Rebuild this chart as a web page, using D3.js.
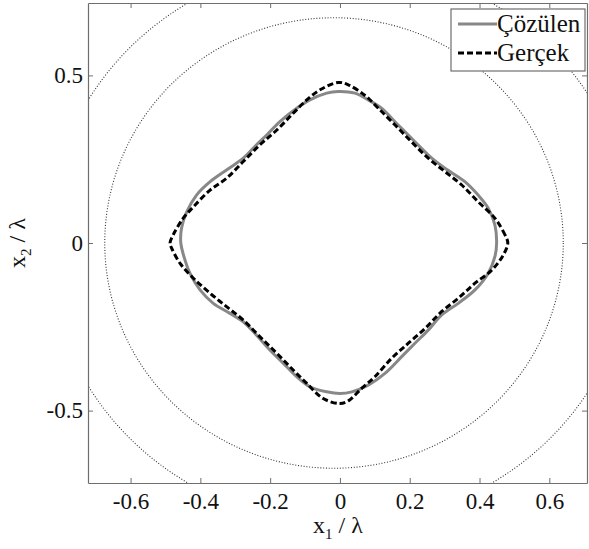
<!DOCTYPE html>
<html lang="tr">
<head>
<meta charset="utf-8">
<title>Çözülen / Gerçek</title>
<script src="https://cdn.jsdelivr.net/npm/d3@7"></script>
<style>
  body { margin: 0; background: #fff; }
  text { font-family: "Liberation Serif", "Times New Roman", serif; fill: #111; }
  .axis path, .axis line { stroke: #6e6e6e; }
</style>
</head>
<body>
<script>
// tick values and labels
var xTicks = [-0.6, -0.4, -0.2, 0, 0.2, 0.4, 0.6];
var xTickLabels = ["-0.6", "-0.4", "-0.2", "0", "0.2", "0.4", "0.6"];
var yTicks = [-0.5, 0, 0.5];
var yTickLabels = ["-0.5", "0", "0.5"];

// dotted reference circles: centre x, radius x, radius y
var circleCx = [-0.017, 0];
var circleRx = [0.657, 0.838];
var circleRy = [0.672, 0.838];

// true contour (Gerçek)
var gercek = [
  [0.481, 0], [0.473, 0.024], [0.444, 0.074], [0.396, 0.123], [0.349, 0.173],
  [0.301, 0.213], [0.253, 0.253], [0.205, 0.302], [0.158, 0.352], [0.110, 0.402],
  [0.072, 0.440], [0.024, 0.472], [-0.005, 0.479], [-0.057, 0.457], [-0.095, 0.427],
  [-0.134, 0.387], [-0.181, 0.337], [-0.229, 0.293], [-0.277, 0.243], [-0.325, 0.193],
  [-0.372, 0.158], [-0.420, 0.108], [-0.449, 0.074], [-0.478, 0.024], [-0.487, 0],
  [-0.482, -0.016], [-0.458, -0.061], [-0.420, -0.105], [-0.372, -0.150], [-0.325, -0.190],
  [-0.277, -0.230], [-0.229, -0.280], [-0.181, -0.329], [-0.134, -0.379], [-0.095, -0.419],
  [-0.048, -0.464], [0, -0.479], [0.024, -0.471], [0.062, -0.434], [0.100, -0.399],
  [0.148, -0.344], [0.196, -0.299], [0.244, -0.255], [0.291, -0.205], [0.339, -0.165],
  [0.387, -0.120], [0.435, -0.081], [0.468, -0.036]
];

// reconstructed contour (Çözülen)
var cozulen = [
  [0.449, 0], [0.444, 0.054], [0.425, 0.104], [0.396, 0.143], [0.358, 0.183],
  [0.301, 0.223], [0.263, 0.253], [0.215, 0.302], [0.167, 0.352], [0.119, 0.402],
  [0.081, 0.427], [0.043, 0.447], [-0.005, 0.452], [-0.038, 0.447], [-0.086, 0.427],
  [-0.124, 0.402], [-0.172, 0.362], [-0.210, 0.322], [-0.239, 0.293], [-0.277, 0.253],
  [-0.325, 0.218], [-0.372, 0.183], [-0.411, 0.143], [-0.439, 0.093], [-0.454, 0.044],
  [-0.456, 0], [-0.444, -0.051], [-0.430, -0.090], [-0.401, -0.140], [-0.363, -0.180],
  [-0.315, -0.210], [-0.277, -0.235], [-0.239, -0.275], [-0.201, -0.319], [-0.162, -0.359],
  [-0.124, -0.399], [-0.086, -0.429], [-0.038, -0.444], [0, -0.449], [0.034, -0.444],
  [0.081, -0.424], [0.129, -0.389], [0.177, -0.339], [0.215, -0.299], [0.253, -0.260],
  [0.291, -0.215], [0.339, -0.180], [0.387, -0.140], [0.425, -0.090], [0.444, -0.041]
];

var seriesNames = ["Çözülen", "Gerçek"];

var w = 589, h = 549;
var plotL = 88, plotR = 587, plotT = 3, plotB = 483;

var x = d3.scaleLinear().domain([-0.722, 0.708]).range([plotL, plotR]);
var y = d3.scaleLinear().domain([-0.716, 0.716]).range([plotB, plotT]);

var svg = d3.select("body").append("svg")
    .attr("width", w)
    .attr("height", h);

svg.append("clipPath").attr("id", "plotclip")
    .append("rect")
    .attr("x", plotL).attr("y", plotT)
    .attr("width", plotR - plotL).attr("height", plotB - plotT);

// dotted circles
svg.selectAll("ellipse.ring")
    .data(circleRx)
    .enter()
    .append("ellipse")
    .attr("class", "ring")
    .attr("clip-path", "url(#plotclip)")
    .attr("cx", function(d, i) { return x(circleCx[i]); })
    .attr("cy", y(0))
    .attr("rx", function(d) { return x(d) - x(0); })
    .attr("ry", function(d, i) { return y(0) - y(circleRy[i]); })
    .attr("fill", "none")
    .attr("stroke", "#333")
    .attr("stroke-width", 1.1)
    .attr("stroke-dasharray", "1,1.8");

var line = d3.line()
    .x(function(d) { return x(d[0]); })
    .y(function(d) { return y(d[1]); })
    .curve(d3.curveCatmullRomClosed.alpha(0.5));

svg.append("path")
    .datum(cozulen)
    .attr("d", line)
    .attr("fill", "none")
    .attr("stroke", "#888")
    .attr("stroke-width", 3);

svg.append("path")
    .datum(gercek)
    .attr("d", line)
    .attr("fill", "none")
    .attr("stroke", "#000")
    .attr("stroke-width", 3)
    .attr("stroke-dasharray", "6,3");

// axes (ticks point inward on all four sides)
svg.append("g")
    .attr("class", "axis")
    .attr("transform", "translate(0," + plotB + ")")
    .call(d3.axisBottom(x).tickValues(xTicks)
        .tickFormat(function(d, i) { return xTickLabels[i]; })
        .tickSizeInner(-5).tickSizeOuter(0).tickPadding(10))
    .selectAll("text").style("font-size", "23px").attr("fill", "#111");

svg.append("g")
    .attr("class", "axis")
    .attr("transform", "translate(0," + plotT + ")")
    .call(d3.axisTop(x).tickValues(xTicks).tickFormat("")
        .tickSizeInner(-5).tickSizeOuter(0));

svg.append("g")
    .attr("class", "axis")
    .attr("transform", "translate(" + plotL + ",0)")
    .call(d3.axisLeft(y).tickValues(yTicks)
        .tickFormat(function(d, i) { return yTickLabels[i]; })
        .tickSizeInner(-5).tickSizeOuter(0).tickPadding(5))
    .selectAll("text").style("font-size", "23px").attr("fill", "#111");

svg.append("g")
    .attr("class", "axis")
    .attr("transform", "translate(" + plotR + ",0)")
    .call(d3.axisRight(y).tickValues(yTicks).tickFormat("")
        .tickSizeInner(-5).tickSizeOuter(0));

svg.selectAll(".axis .domain").attr("stroke-width", 1.2);

// axis titles
var xt = svg.append("text")
    .attr("x", 338)
    .attr("y", 533)
    .attr("text-anchor", "middle")
    .style("font-size", "24px");
xt.append("tspan").text("x");
xt.append("tspan").attr("dy", 6).style("font-size", "15px").text("1");
xt.append("tspan").attr("dy", -6).text(" / λ");

var yt = svg.append("text")
    .attr("transform", "translate(25," + y(0) + ") rotate(-90)")
    .attr("text-anchor", "middle")
    .style("font-size", "24px");
yt.append("tspan").text("x");
yt.append("tspan").attr("dy", 6).style("font-size", "15px").text("2");
yt.append("tspan").attr("dy", -6).text(" / λ");

// legend
var legend = svg.append("g");
legend.append("rect")
    .attr("x", 451).attr("y", 9)
    .attr("width", 134).attr("height", 62)
    .attr("fill", "#fff")
    .attr("stroke", "#6e6e6e")
    .attr("stroke-width", 1.2);

var legendY = [24, 53];
legend.append("line")
    .attr("x1", 458).attr("x2", 497)
    .attr("y1", legendY[0]).attr("y2", legendY[0])
    .attr("stroke", "#888").attr("stroke-width", 3);
legend.append("line")
    .attr("x1", 458).attr("x2", 497)
    .attr("y1", legendY[1]).attr("y2", legendY[1])
    .attr("stroke", "#000").attr("stroke-width", 3)
    .attr("stroke-dasharray", "6,3");

legend.selectAll("text.leg")
    .data(seriesNames)
    .enter()
    .append("text")
    .attr("class", "leg")
    .attr("x", 497)
    .attr("y", function(d, i) { return legendY[i] + 8; })
    .style("font-size", "25px")
    .text(function(d) { return d; });
</script>
</body>
</html>
